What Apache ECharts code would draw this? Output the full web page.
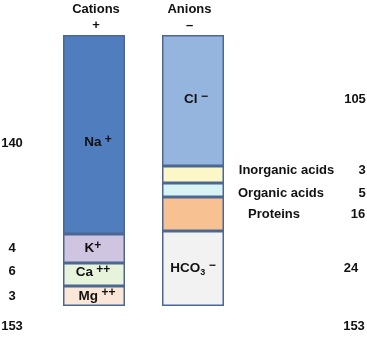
<!DOCTYPE html>
<html><head><meta charset="utf-8">
<script src="https://cdn.jsdelivr.net/npm/echarts/dist/echarts.min.js"></script>
<style>html,body{margin:0;padding:0;background:#fff}#c{width:367px;height:338px}</style>
</head><body><div id="c"></div>
<script>
// ---- data ----
const columns = ['Cations', 'Anions'];
const columnSigns = ['+', '–'];
const cationNames = ['Na+', 'K+', 'Ca++', 'Mg++'];
const cationValues = [140, 4, 6, 3];          // labelled values (mEq/L)
const cationHeights = [199, 29, 23, 20];      // drawn segment heights (figure is not to scale)
const anionNames = ['Cl−', 'Inorganic acids', 'Organic acids', 'Proteins', 'HCO3−'];
const anionValues = [105, 3, 5, 16, 24];
const anionHeights = [131, 17, 14, 34, 75];
const totals = [153, 153];

// ---- styles ----
const FONT = "'Liberation Sans', Arial, Helvetica, sans-serif";
const cationColors = ['#4f7dbd', '#cfc5e0', '#e8f3dc', '#fbe7d7'];
const anionColors = ['#95b4de', '#fbf7c7', '#d8f3f3', '#f8c192', '#f2f2f2'];
const BORDER = '#4a6893';
const TEXT = '#111';

const rich = {
  b: { fontFamily: FONT, fontWeight: 'bold', fontSize: 13.5, color: TEXT, lineHeight: 18, verticalAlign: 'middle' },
  sup: { fontFamily: FONT, fontWeight: 'bold', fontSize: 12, color: TEXT, lineHeight: 10, verticalAlign: 'top' },
  sub: { fontFamily: FONT, fontWeight: 'bold', fontSize: 9, color: TEXT, lineHeight: 9, verticalAlign: 'bottom' }
};
const cationInside = ['{b|Na} {sup|+}', '{b|K}{sup|+}', '{b|Ca} {sup|++}', '{b|Mg} {sup|++}'];
const cationInsideOffset = [[4, 8], [-1, 0], [-1, -2], [3, 0]];
const anionInside = ['{b|Cl} {sup|−}', null, null, null, '{b|HCO}{sub|3} {sup|−}'];
const anionInsideOffset = [[3, -1], null, null, null, [0, 0]];

const series = [];
cationHeights.forEach((h, i) => {
  series.push({
    name: cationNames[i], type: 'bar', stack: 'total', barWidth: 62,
    data: [h, '-'],
    itemStyle: { color: cationColors[i], borderColor: BORDER, borderWidth: 1.5 },
    label: { show: true, position: 'inside', formatter: cationInside[i], rich: rich, offset: cationInsideOffset[i] }
  });
});
anionHeights.forEach((h, i) => {
  series.push({
    name: anionNames[i], type: 'bar', stack: 'total', barWidth: 62,
    data: ['-', h],
    itemStyle: { color: anionColors[i], borderColor: BORDER, borderWidth: 1.5 },
    label: anionInside[i] ? { show: true, position: 'inside', formatter: anionInside[i], rich: rich, offset: anionInsideOffset[i] } : { show: false }
  });
});

const chart = echarts.init(document.getElementById('c'), null, { renderer: 'canvas' });
chart.setOption({
  animation: false,
  grid: { left: 44.5, right: 124.5, top: 35, bottom: 32 },
  xAxis: { type: 'category', data: columns, show: false },
  yAxis: { type: 'value', min: 0, max: cationHeights.reduce((a, b) => a + b, 0), inverse: true, show: false },
  series: series
});

// ---- side annotations, positioned through the y scale ----
function mids(heights) {
  let acc = 0;
  return heights.map(h => { const m = acc + h / 2; acc += h; return chart.convertToPixel({ yAxisIndex: 0 }, m); });
}
const cm = mids(cationHeights);
const am = mids(anionHeights);
const bottomY = chart.convertToPixel({ yAxisIndex: 0 }, cationHeights.reduce((a, b) => a + b, 0));
const txt = (x, y, s, align) => ({
  type: 'text', x: x, y: y, silent: true,
  style: { text: s, fill: TEXT, font: 'bold 13px ' + FONT, textAlign: align || 'center', textVerticalAlign: 'middle' }
});
const cationNumDy = [9, 0, -3, 0];
const anionNumDy = [-1.5, -4, 3, 0, 0];
const anionNumX = [355, 362, 362, 358, 351];
const anionLabelX = [null, 286.5, 281, 274, null];
const anionLabelDy = [0, -4, 3, 0, 0];
const g = [];
const colCenters = [96, 189.5];
columns.forEach((c, i) => {
  g.push(txt(colCenters[i], 9, c));
  g.push(txt(colCenters[i], 25, columnSigns[i]));
});
cationValues.forEach((v, i) => g.push(txt(12, cm[i] + cationNumDy[i], String(v))));
anionValues.forEach((v, i) => {
  g.push(txt(anionNumX[i], am[i] + anionNumDy[i], String(v)));
  if (anionLabelX[i] !== null) g.push(txt(anionLabelX[i], am[i] + anionLabelDy[i], anionNames[i]));
});
g.push(txt(12, bottomY + 20, String(totals[0])));
g.push(txt(354, bottomY + 20, String(totals[1])));
chart.setOption({ graphic: g });
</script>
</body></html>
